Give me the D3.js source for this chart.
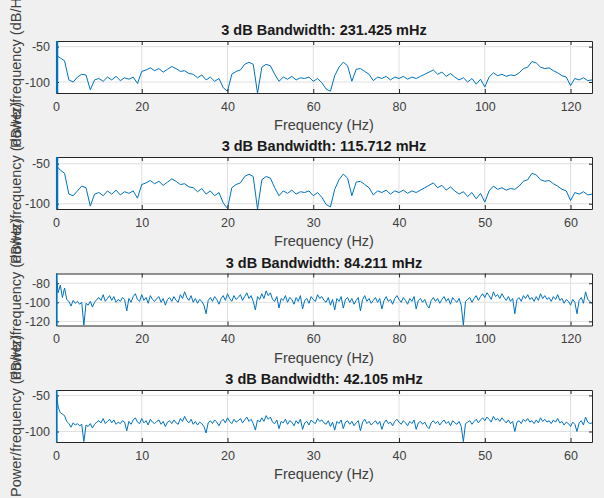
<!DOCTYPE html>
<html>
<head>
<meta charset="utf-8">
<script src="https://cdn.jsdelivr.net/npm/d3@7"></script>
<style>
  body { margin: 0; background: #f0f0f0; }
  svg { display: block; font-family: "Liberation Sans", Arial, sans-serif; }
</style>
</head>
<body>
<script>
// subplot titles and 3 dB bandwidths (Hz)
var titles = ["3 dB Bandwidth: 231.425 mHz", "3 dB Bandwidth: 115.712 mHz",
              "3 dB Bandwidth: 84.211 mHz", "3 dB Bandwidth: 42.105 mHz"];
var bandwidthHz = [0.231425, 0.115712, 0.084211, 0.042105];

// frequency axis limits, frequency step of each PSD, y limits
var xMax = [125, 62.5, 125, 62.5];
var freqStep = [1, 0.5, 0.5, 0.25];
var yLims = [[-115.5, -42], [-106.6, -41.6], [-124.3, -69.8], [-114.5, -42.5]];

// tick labels
var xTicksWide = [0, 20, 40, 60, 80, 100, 120];
var xTicksNarrow = [0, 10, 20, 30, 40, 50, 60];
var yTicksA = [-50, -100];
var yTicksB = [-80, -100, -120];

// PSD values (dB/Hz)
var psd1 = [-62,-66,-70,-97,-100,-93,-89,-90,-111,-97,
  -95,-99,-93,-97,-92,-98,-94,-96,-93,-102,
  -85,-83,-80,-84,-81,-86,-82,-78,-81,-85,
  -84,-88,-89,-94,-90,-97,-93,-99,-95,-108,
  -113,-89,-85,-83,-75,-72,-75,-116,-79,-75,
  -77,-89,-99,-93,-96,-92,-97,-94,-95,-93,
  -99,-95,-101,-110,-113,-91,-79,-72,-77,-99,
  -82,-81,-85,-89,-98,-93,-95,-92,-97,-93,
  -95,-92,-96,-93,-95,-92,-89,-86,-83,-89,
  -86,-92,-88,-93,-97,-94,-100,-95,-103,-96,
  -107,-93,-87,-91,-89,-92,-90,-91,-87,-81,
  -79,-71,-73,-79,-81,-80,-84,-87,-91,-93,
  -105,-95,-97,-94,-98,-97];

var psd2 = [-52,-58,-62,-88,-90,-84,-78,-80,-103,-88,
  -86,-90,-84,-88,-83,-89,-85,-87,-84,-93,
  -76,-74,-71,-75,-72,-77,-73,-69,-72,-76,
  -75,-79,-80,-85,-81,-88,-84,-90,-86,-99,
  -106,-80,-76,-74,-66,-63,-66,-107,-70,-66,
  -68,-80,-90,-84,-87,-83,-88,-85,-86,-84,
  -90,-86,-92,-101,-104,-82,-70,-63,-68,-90,
  -73,-72,-76,-80,-89,-84,-86,-83,-88,-84,
  -86,-83,-87,-84,-86,-83,-80,-77,-74,-80,
  -77,-83,-79,-84,-88,-85,-91,-86,-94,-87,
  -98,-84,-78,-82,-80,-83,-81,-82,-78,-72,
  -70,-62,-64,-70,-72,-71,-75,-78,-82,-84,
  -96,-86,-88,-85,-89,-88];

var psd3 = [-70,-90,-82,-95,-85,-97,-99,-104,-98,-101,
  -99,-102,-100,-124,-101,-103,-99,-105,-100,-97,
  -95,-98,-92,-99,-96,-93,-98,-94,-100,-97,
  -99,-95,-97,-109,-96,-100,-94,-91,-97,-99,
  -92,-98,-95,-101,-93,-97,-99,-96,-94,-100,
  -96,-103,-97,-95,-99,-94,-98,-100,-92,-96,
  -89,-95,-98,-93,-100,-96,-101,-97,-99,-103,
  -112,-98,-95,-99,-94,-97,-102,-96,-93,-98,
  -91,-96,-99,-93,-97,-95,-92,-98,-94,-90,
  -96,-93,-99,-108,-94,-97,-91,-96,-88,-93,
  -90,-97,-99,-94,-106,-96,-98,-93,-100,-95,
  -97,-102,-95,-99,-93,-107,-98,-96,-101,-94,
  -97,-99,-92,-96,-94,-98,-100,-95,-103,-97,
  -108,-96,-99,-94,-106,-97,-95,-100,-96,-102,
  -98,-95,-109,-97,-93,-99,-96,-101,-98,-95,
  -100,-96,-107,-98,-94,-99,-97,-102,-96,-93,
  -97,-100,-95,-98,-102,-96,-99,-94,-107,-98,
  -96,-100,-97,-103,-106,-98,-95,-99,-96,-101,
  -97,-94,-99,-96,-102,-95,-98,-100,-96,-103,
  -124,-99,-97,-95,-100,-96,-93,-98,-94,-91,
  -95,-90,-93,-97,-89,-94,-92,-96,-91,-95,
  -98,-94,-99,-96,-112,-97,-95,-99,-93,-96,
  -92,-97,-95,-99,-94,-98,-91,-96,-93,-97,
  -95,-99,-94,-97,-92,-98,-96,-101,-97,-99,
  -103,-97,-100,-112,-98,-95,-101,-89,-97,-99,
  -101];

var psd4 = [-42,-66,-74,-76,-78,-86,-89,-94,-88,-91,
  -89,-92,-90,-114,-91,-93,-89,-95,-90,-87,
  -85,-88,-82,-89,-86,-83,-88,-84,-90,-87,
  -89,-85,-87,-99,-86,-90,-84,-81,-87,-89,
  -82,-88,-85,-91,-83,-87,-89,-86,-84,-90,
  -86,-93,-87,-85,-89,-84,-88,-90,-82,-86,
  -79,-85,-88,-83,-90,-86,-91,-87,-89,-93,
  -102,-88,-85,-89,-84,-87,-92,-86,-83,-88,
  -81,-86,-89,-83,-87,-85,-82,-88,-84,-80,
  -86,-83,-89,-98,-84,-87,-81,-86,-78,-83,
  -80,-87,-89,-84,-96,-86,-88,-83,-90,-85,
  -87,-92,-85,-89,-83,-97,-88,-86,-91,-84,
  -87,-89,-82,-86,-84,-88,-90,-85,-93,-87,
  -98,-86,-89,-84,-96,-87,-85,-90,-86,-92,
  -88,-85,-99,-87,-83,-89,-86,-91,-88,-85,
  -90,-86,-97,-88,-84,-89,-87,-92,-86,-83,
  -87,-90,-85,-88,-92,-86,-89,-84,-97,-88,
  -86,-90,-87,-93,-96,-88,-85,-89,-86,-91,
  -87,-84,-89,-86,-92,-85,-88,-90,-86,-93,
  -114,-89,-87,-85,-90,-86,-83,-88,-84,-81,
  -85,-80,-83,-87,-79,-84,-82,-86,-81,-85,
  -88,-84,-89,-86,-100,-87,-85,-89,-83,-86,
  -82,-87,-85,-89,-84,-88,-81,-86,-83,-87,
  -85,-89,-84,-87,-82,-88,-86,-91,-87,-89,
  -93,-87,-90,-100,-88,-85,-91,-80,-87,-89,
  -88];

var series = [psd1, psd2, psd3, psd4];
var xTicks = [xTicksWide, xTicksNarrow, xTicksWide, xTicksNarrow];
var yTicks = [yTicksA, yTicksA, yTicksB, yTicksA];

var width = 604, height = 498;
var left = 56, right = 592;
var tops = [41, 157, 273.5, 390], plotH = 52;
var lineColor = "#0072BD", axisColor = "#262626", textColor = "#404040";

var svg = d3.select("body").append("svg")
  .attr("width", width).attr("height", height);

svg.append("rect").attr("width", width).attr("height", height).attr("fill", "#f0f0f0");

series.forEach(function (vals, k) {
  var top = tops[k], bottom = top + plotH;
  var x = d3.scaleLinear().domain([0, xMax[k]]).range([left, right]);
  var y = d3.scaleLinear().domain(yLims[k]).range([bottom, top]);

  var g = svg.append("g");

  g.append("clipPath").attr("id", "clip" + k)
    .append("rect").attr("x", left).attr("y", top)
    .attr("width", right - left).attr("height", plotH);

  g.append("rect").attr("x", left).attr("y", top)
    .attr("width", right - left).attr("height", plotH).attr("fill", "#fff");

  // grid
  g.selectAll(".xg").data(xTicks[k]).enter().append("line")
    .attr("x1", function (d) { return x(d); }).attr("x2", function (d) { return x(d); })
    .attr("y1", top).attr("y2", bottom)
    .attr("stroke", "#dfdfdf").attr("stroke-width", 1);
  g.selectAll(".yg").data(yTicks[k]).enter().append("line")
    .attr("x1", left).attr("x2", right)
    .attr("y1", function (d) { return y(d); }).attr("y2", function (d) { return y(d); })
    .attr("stroke", "#dfdfdf").attr("stroke-width", 1);

  // psd line
  var line = d3.line()
    .x(function (d, i) { return x(i * freqStep[k]); })
    .y(function (d) { return y(d); });
  g.append("path").datum(vals)
    .attr("clip-path", "url(#clip" + k + ")")
    .attr("fill", "none").attr("stroke", lineColor).attr("stroke-width", 1)
    .attr("stroke-linejoin", "round")
    .attr("d", line);

  // axes with inward ticks on all sides
  var ax = g.append("g").attr("transform", "translate(0," + bottom + ")")
    .call(d3.axisBottom(x).tickValues(xTicks[k]).tickSizeInner(-4).tickSizeOuter(0).tickPadding(9));
  var axTop = g.append("g").attr("transform", "translate(0," + top + ")")
    .call(d3.axisTop(x).tickValues(xTicks[k]).tickSizeInner(-4).tickSizeOuter(0).tickFormat(""));
  var ay = g.append("g").attr("transform", "translate(" + left + ",0)")
    .call(d3.axisLeft(y).tickValues(yTicks[k]).tickSizeInner(-3).tickSizeOuter(0).tickPadding(6));
  var ayR = g.append("g").attr("transform", "translate(" + right + ",0)")
    .call(d3.axisRight(y).tickValues(yTicks[k]).tickSizeInner(-3).tickSizeOuter(0).tickFormat(""));

  [ax, axTop, ay, ayR].forEach(function (a) {
    a.select(".domain").attr("stroke", axisColor);
    a.selectAll(".tick line").attr("stroke", axisColor);
    a.selectAll(".tick text").attr("fill", textColor)
      .attr("font-family", "'Liberation Sans', Arial, sans-serif").attr("font-size", 12.5);
  });
  ay.selectAll(".tick text").text(function (d) { return d; });

  // 3 dB bandwidth band at the left edge
  g.append("rect")
    .attr("clip-path", "url(#clip" + k + ")")
    .attr("x", x(0)).attr("y", top)
    .attr("width", x(bandwidthHz[k]) - x(0)).attr("height", plotH)
    .attr("fill", lineColor).attr("stroke", lineColor).attr("stroke-width", 2.5);

  g.append("text")
    .attr("x", (left + right) / 2).attr("y", top - 6)
    .attr("text-anchor", "middle").attr("font-size", 14.5).attr("font-weight", "bold")
    .attr("fill", "#1a1a1a").text(titles[k]);

  g.append("text")
    .attr("x", (left + right) / 2).attr("y", bottom + 37)
    .attr("text-anchor", "middle").attr("font-size", 14.5)
    .attr("fill", textColor).text("Frequency (Hz)");

  g.append("text")
    .attr("transform", "translate(21," + (top + plotH / 2) + ") rotate(-90)")
    .attr("text-anchor", "middle").attr("font-size", 14.5)
    .attr("fill", textColor).text("Power/frequency (dB/Hz)");
});
</script>
</body>
</html>
